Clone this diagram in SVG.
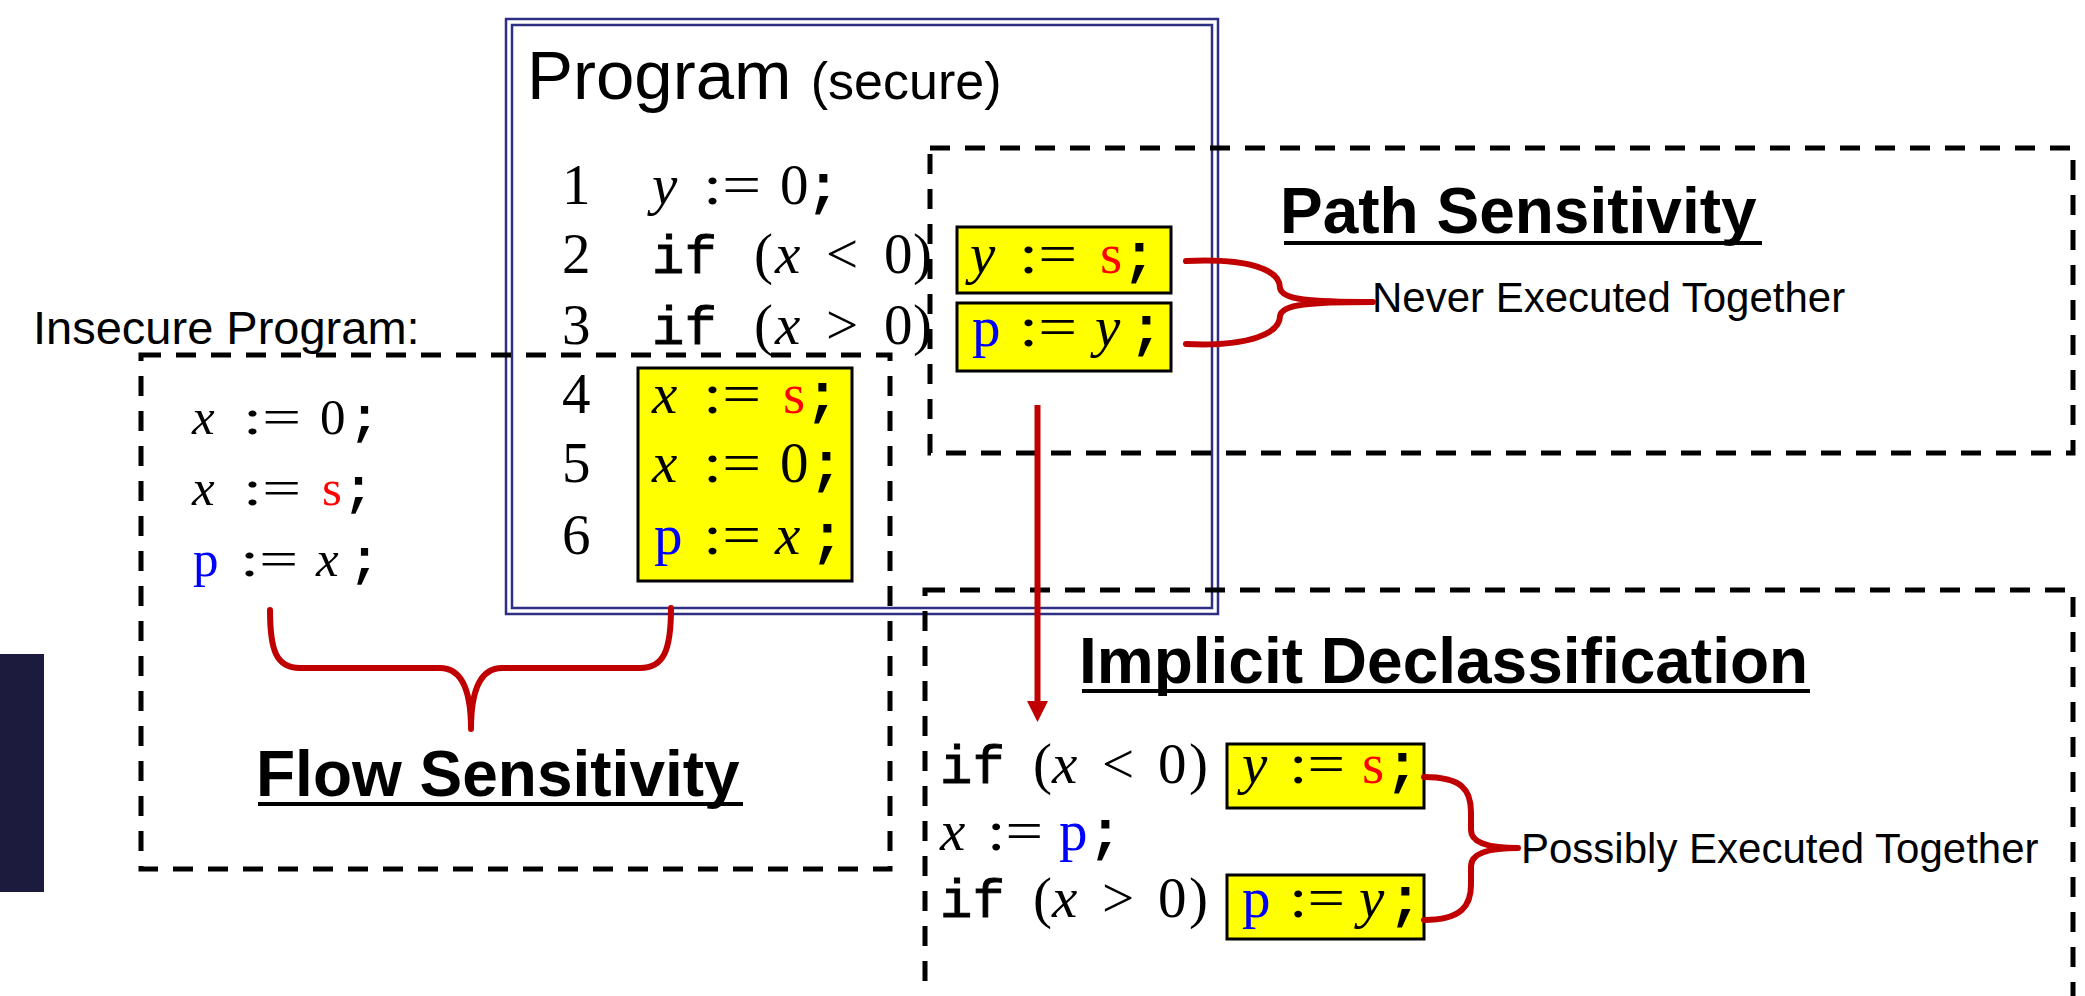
<svg xmlns="http://www.w3.org/2000/svg" width="2085" height="996" viewBox="0 0 2085 996">
<style>
.dash{fill:none;stroke:#000;stroke-width:5;stroke-dasharray:20 15}
.navy{fill:none;stroke:#2e2e82;stroke-width:2.5}
.yb{fill:#ffff00;stroke:#000;stroke-width:3}
.br{fill:none;stroke:#c00000;stroke-width:6;stroke-linecap:round}
.sans{font-family:"Liberation Sans",Arial,sans-serif;fill:#000}
.hd{font-family:"Liberation Sans",Arial,sans-serif;font-weight:bold;font-size:64px;fill:#000}
.ul{stroke:#000;stroke-width:4}
.m{font-family:"Liberation Serif","Times New Roman",serif;font-size:57px;fill:#000}
.m48{font-family:"Liberation Serif","Times New Roman",serif;font-size:51px;fill:#000}
.i{font-style:italic}
.tt{font-family:"Liberation Mono","Courier New",monospace;font-weight:bold}
.kw{font-family:"Liberation Mono","Courier New",monospace;font-size:54px;stroke:#000;stroke-width:0.9}
.red{fill:#ff0000}
.blue{fill:#0000ff}
</style>

<rect id="sidebar" x="0" y="654" width="44" height="238" fill="#1c1a3d"/>

<g id="program">
  <rect class="navy" x="506" y="19" width="712" height="595"/>
  <rect class="navy" x="512" y="25" width="700" height="583"/>
  <text class="sans" x="527" y="99" font-size="69">Program <tspan font-size="52">(secure)</tspan></text>
  <g class="m">
    <text x="562" y="204">1</text>
    <text x="562" y="273">2</text>
    <text x="562" y="344">3</text>
    <text x="562" y="413">4</text>
    <text x="562" y="482">5</text>
    <text x="562" y="554">6</text>
    <text x="652" y="204" class="i">y</text>
    <text x="703" y="204" textLength="58" lengthAdjust="spacingAndGlyphs">:=</text>
    <text x="780" y="204">0</text>
    <text x="806" y="204" class="tt">;</text>
    <text x="652" y="273" class="kw">if</text>
    <text x="754" y="273">(</text>
    <text x="775" y="273" class="i">x</text>
    <text x="826" y="273">&lt;</text>
    <text x="884" y="273">0</text>
    <text x="913" y="273">)</text>
    <text x="652" y="344" class="kw">if</text>
    <text x="754" y="344">(</text>
    <text x="775" y="344" class="i">x</text>
    <text x="826" y="344">&gt;</text>
    <text x="884" y="344">0</text>
    <text x="913" y="344">)</text>
  </g>
</g>

<g id="insecure">
  <text class="sans" x="33" y="344" font-size="47">Insecure Program:</text>
  <rect class="dash" x="141" y="355" width="749" height="514"/>
  <g class="m48">
    <text x="192" y="434" class="i">x</text>
    <text x="243" y="434" textLength="58" lengthAdjust="spacingAndGlyphs">:=</text>
    <text x="320" y="434">0</text>
    <text x="349" y="434" class="tt">;</text>
    <text x="192" y="505" class="i">x</text>
    <text x="243" y="505" textLength="58" lengthAdjust="spacingAndGlyphs">:=</text>
    <text x="322" y="505" class="red">s</text>
    <text x="343" y="505" class="tt">;</text>
    <text x="193" y="576" class="blue">p</text>
    <text x="240" y="576" textLength="58" lengthAdjust="spacingAndGlyphs">:=</text>
    <text x="316" y="576" class="i">x</text>
    <text x="349" y="576" class="tt">;</text>
  </g>
  <text class="hd" x="256" y="796">Flow Sensitivity</text>
  <line class="ul" x1="258" y1="804" x2="743" y2="804"/>
</g>

<g id="program-block">
  <rect class="yb" x="638" y="368" width="214" height="213"/>
  <g class="m">
    <text x="652" y="413" class="i">x</text>
    <text x="703" y="413" textLength="58" lengthAdjust="spacingAndGlyphs">:=</text>
    <text x="783" y="413" class="red">s</text>
    <text x="805" y="413" class="tt">;</text>
    <text x="652" y="482" class="i">x</text>
    <text x="703" y="482" textLength="58" lengthAdjust="spacingAndGlyphs">:=</text>
    <text x="780" y="482">0</text>
    <text x="809" y="482" class="tt">;</text>
    <text x="654" y="554" class="blue">p</text>
    <text x="703" y="554" textLength="58" lengthAdjust="spacingAndGlyphs">:=</text>
    <text x="775" y="554" class="i">x</text>
    <text x="810" y="554" class="tt">;</text>
  </g>
</g>

<g id="path-sensitivity">
  <rect class="dash" x="930" y="148" width="1143" height="305"/>
  <text class="hd" x="1280" y="233">Path Sensitivity</text>
  <line class="ul" x1="1284" y1="243" x2="1762" y2="243"/>
  <rect class="yb" x="957" y="227" width="214" height="66"/>
  <rect class="yb" x="957" y="303" width="214" height="68"/>
  <g class="m">
    <text x="970" y="273" class="i">y</text>
    <text x="1019" y="273" textLength="58" lengthAdjust="spacingAndGlyphs">:=</text>
    <text x="1100" y="273" class="red">s</text>
    <text x="1122" y="273" class="tt">;</text>
    <text x="972" y="346" class="blue">p</text>
    <text x="1019" y="346" textLength="58" lengthAdjust="spacingAndGlyphs">:=</text>
    <text x="1095" y="346" class="i">y</text>
    <text x="1129" y="346" class="tt">;</text>
  </g>
  <text class="sans" x="1372" y="312" font-size="42">Never Executed Together</text>
</g>

<g id="implicit-declassification">
  <rect class="dash" x="925" y="590" width="1148" height="430"/>
  <text class="hd" x="1079" y="683">Implicit Declassification</text>
  <line class="ul" x1="1082" y1="691" x2="1810" y2="691"/>
  <rect class="yb" x="1227" y="744" width="197" height="64"/>
  <rect class="yb" x="1227" y="875" width="197" height="64"/>
  <g class="m">
    <text x="940" y="783" class="kw">if</text>
    <text x="1033" y="783">(</text>
    <text x="1052" y="783" class="i">x</text>
    <text x="1102" y="783">&lt;</text>
    <text x="1158" y="783">0</text>
    <text x="1189" y="783">)</text>
    <text x="1242" y="783" class="i">y</text>
    <text x="1289" y="783" textLength="56" lengthAdjust="spacingAndGlyphs">:=</text>
    <text x="1362" y="783" class="red">s</text>
    <text x="1385" y="783" class="tt">;</text>
    <text x="940" y="850" class="i">x</text>
    <text x="987" y="850" textLength="56" lengthAdjust="spacingAndGlyphs">:=</text>
    <text x="1059" y="850" class="blue">p</text>
    <text x="1088" y="850" class="tt">;</text>
    <text x="940" y="917" class="kw">if</text>
    <text x="1033" y="917">(</text>
    <text x="1052" y="917" class="i">x</text>
    <text x="1102" y="917">&gt;</text>
    <text x="1158" y="917">0</text>
    <text x="1189" y="917">)</text>
    <text x="1242" y="917" class="blue">p</text>
    <text x="1289" y="917" textLength="56" lengthAdjust="spacingAndGlyphs">:=</text>
    <text x="1359" y="917" class="i">y</text>
    <text x="1388" y="917" class="tt">;</text>
  </g>
  <text class="sans" x="1521" y="863" font-size="42">Possibly Executed Together</text>
</g>

<g id="connectors">
  <path class="br" d="M270,610 C270,650 276,668 300,668 L440,668 C462,668 471,690 471,729 M671,608 C671,650 664,668 640,668 L502,668 C480,668 471,690 471,729"/>
  <path class="br" d="M1186,261 C1250,258 1280,270 1280,288 C1282,300 1310,302 1373,302 M1186,344 C1250,347 1280,333 1280,316 C1282,304 1310,302 1373,302"/>
  <path class="br" d="M1424,777 C1462,777 1471,790 1471,812 L1471,830 C1471,843 1490,848 1518,848 M1424,920 C1462,920 1471,905 1471,885 L1471,866 C1471,853 1490,848 1518,848"/>
  <line x1="1037.5" y1="405" x2="1037.5" y2="703" stroke="#c00000" stroke-width="6"/>
  <polygon points="1027,701 1048,701 1037.5,722" fill="#c00000"/>
</g>
</svg>
